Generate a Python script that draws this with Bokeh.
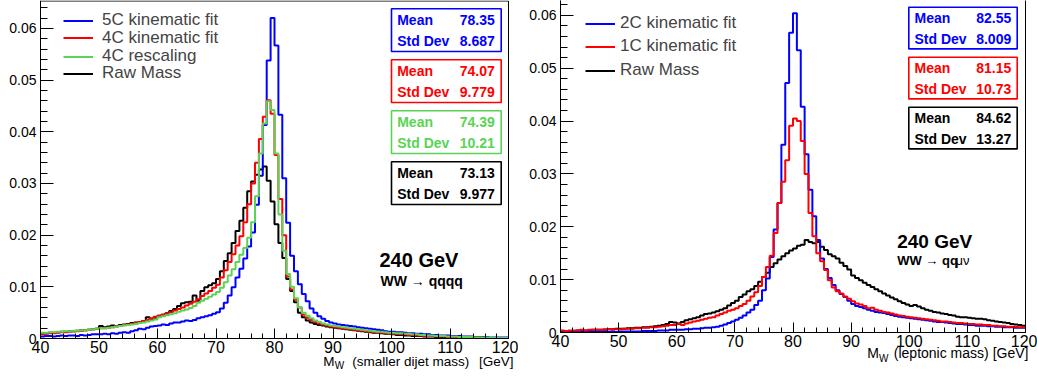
import numpy as np
from bokeh.plotting import figure
from bokeh.models import (Legend, LegendItem, Label, BoxAnnotation, FixedTicker, Range1d)
from bokeh.layouts import row
from bokeh.embed import file_html
from bokeh.resources import INLINE

# ---------------- data ----------------
X_MIN, X_MAX, N_BINS = 40, 120, 120
X_TICKS = [40, 50, 60, 70, 80, 90, 100, 110, 120]
Y_TICKS = [0, 0.01, 0.02, 0.03, 0.04, 0.05, 0.06]
Y_TICK_LABELS = ["0", "0.01", "0.02", "0.03", "0.04", "0.05", "0.06"]

# bin contents in units of 1e-3 (bins of 2/3 GeV from 40 to 120 GeV)
L_5C = [0.4, 0.5, 0.5, 0.4, 0.5, 0.6, 0.5, 0.6, 0.6, 0.5, 0.7, 0.6, 0.7, 0.8, 0.8,
        0.8, 0.9, 0.8, 1.0, 0.9, 1.1, 1.2, 1.1, 1.4, 1.6, 1.9, 1.8, 2.1, 2.3, 2.4,
        2.5, 2.7, 2.6, 2.9, 3.1, 3.1, 3.3, 3.5, 3.4, 3.6, 3.9, 4.1, 4.3, 4.5, 4.8,
        5.1, 5.8, 6.9, 8.3, 9.9, 11.8, 13.5, 15.5, 17.8, 20.5, 25.9, 31.5, 41.3, 53.8, 62.0,
        56.7, 43.3, 31.0, 22.4, 16.0, 13.0, 10.5, 8.6, 7.2, 5.8, 5.0, 4.3, 3.8, 3.4, 3.1,
        2.9, 2.7, 2.6, 2.5, 2.4, 2.3, 2.2, 2.1, 2.0, 1.9, 1.8, 1.7, 1.6, 1.4, 1.3,
        1.3, 1.2, 1.2, 1.1, 1.0, 1.0, 0.9, 0.9, 0.8, 0.8, 0.7, 0.7, 0.6, 0.6, 0.6,
        0.5, 0.5, 0.5, 0.4, 0.4, 0.4, 0.3, 0.3, 0.3, 0.3, 0.2, 0.2, 0.2, 0.2, 0.2]
L_4C = [0.8, 0.9, 1.0, 1.0, 1.1, 1.2, 1.2, 1.3, 1.4, 1.4, 1.5, 1.6, 1.7, 1.8, 1.9,
        2.0, 2.0, 2.1, 2.2, 2.3, 2.4, 2.6, 2.7, 2.8, 3.0, 3.2, 3.4, 3.6, 3.9, 4.2,
        4.4, 4.6, 4.8, 5.1, 5.4, 5.7, 6.0, 6.4, 6.7, 7.1, 7.6, 8.2, 8.7, 9.2, 9.8,
        10.4, 11.8, 13.2, 14.8, 16.3, 18.0, 19.8, 22.5, 26.0, 30.0, 34.0, 38.6, 42.9, 46.1, 43.5,
        35.5, 27.0, 20.0, 12.0, 9.5, 7.5, 6.0, 4.6, 4.0, 3.6, 3.2, 2.9, 2.7, 2.5, 2.3,
        2.2, 2.1, 2.0, 1.9, 1.8, 1.7, 1.6, 1.5, 1.4, 1.3, 1.2, 1.2, 1.1, 1.0, 1.0,
        0.9, 0.9, 0.8, 0.8, 0.7, 0.7, 0.6, 0.6, 0.5, 0.5, 0.5, 0.4, 0.4, 0.4, 0.3,
        0.3, 0.3, 0.3, 0.2, 0.2, 0.2, 0.2, 0.2, 0.1, 0.1, 0.1, 0.1, 0.1, 0.1, 0.1]
L_4C_RESC = [1.1, 1.1, 1.2, 1.2, 1.3, 1.3, 1.4, 1.4, 1.5, 1.5, 1.6, 1.6, 1.7, 1.8, 1.9,
             2.0, 2.0, 2.1, 2.2, 2.3, 2.4, 2.5, 2.6, 2.7, 2.8, 3.0, 3.1, 3.3, 3.5, 3.7,
             4.1, 4.3, 4.5, 4.7, 4.9, 5.2, 5.4, 5.6, 5.9, 6.3, 6.9, 7.3, 7.7, 8.1, 8.5,
             9.0, 9.8, 10.9, 12.2, 13.4, 14.8, 16.2, 17.5, 19.5, 22.5, 27.5, 35.8, 41.6, 45.9, 44.2,
             35.8, 24.0, 17.0, 12.5, 10.0, 7.8, 6.0, 5.0, 4.4, 3.9, 3.5, 3.2, 2.9, 2.7, 2.5,
             2.4, 2.3, 2.2, 2.1, 2.0, 1.9, 1.8, 1.7, 1.6, 1.5, 1.4, 1.3, 1.3, 1.2, 1.1,
             1.1, 1.0, 1.0, 0.9, 0.9, 0.8, 0.8, 0.7, 0.7, 0.6, 0.6, 0.5, 0.5, 0.5, 0.4,
             0.4, 0.4, 0.3, 0.3, 0.3, 0.3, 0.2, 0.2, 0.2, 0.2, 0.2, 0.1, 0.1, 0.1, 0.1]
L_RAW = [1.0, 1.0, 1.1, 1.1, 1.2, 1.3, 1.3, 1.4, 1.4, 1.5, 1.6, 1.6, 1.7, 1.8, 1.9,
         2.4, 2.2, 2.3, 2.5, 2.4, 2.6, 2.7, 2.8, 3.0, 3.1, 3.2, 3.4, 4.1, 3.7, 4.0,
         4.4, 4.6, 4.9, 5.3, 5.7, 6.3, 6.8, 7.0, 7.1, 8.3, 7.3, 9.2, 9.9, 10.3, 10.7,
         11.5, 13.0, 15.0, 16.5, 18.5, 20.8, 22.8, 25.3, 28.5, 30.4, 31.7, 32.7, 33.3, 30.5, 26.5,
         22.1, 18.5, 15.6, 11.5, 9.2, 7.0, 5.0, 4.1, 3.5, 3.1, 2.8, 2.6, 2.5, 2.3, 2.2,
         2.1, 2.0, 1.9, 1.8, 1.7, 1.6, 1.5, 1.4, 1.3, 1.2, 1.1, 1.1, 1.0, 0.9, 0.9,
         0.8, 0.7, 0.7, 0.6, 0.6, 0.5, 0.5, 0.5, 0.4, 0.4, 0.4, 0.3, 0.3, 0.3, 0.3,
         0.3, 0.2, 0.2, 0.2, 0.2, 0.2, 0.2, 0.1, 0.1, 0.1, 0.1, 0.1, 0.1, 0.1, 0.1]

R_2C = [0.1, 0.1, 0.1, 0.1, 0.1, 0.1, 0.1, 0.1, 0.1, 0.1, 0.1, 0.1, 0.1, 0.2, 0.1,
        0.2, 0.2, 0.2, 0.2, 0.2, 0.2, 0.3, 0.3, 0.3, 0.3, 0.4, 0.4, 0.4, 0.5, 0.5,
        0.5, 0.5, 0.6, 0.6, 0.7, 0.7, 0.8, 0.9, 0.9, 1.0, 1.1, 1.3, 1.5, 1.8, 2.1,
        2.4, 2.8, 3.2, 3.8, 4.3, 5.2, 6.0, 8.0, 10.2, 14.3, 19.5, 24.5, 35.5, 47.2, 56.7,
        60.4, 53.4, 42.7, 33.7, 27.0, 22.0, 17.5, 14.0, 12.0, 10.3, 9.0, 8.0, 7.3, 6.7, 6.0,
        5.4, 5.0, 4.8, 4.6, 4.3, 4.1, 3.9, 3.8, 3.7, 3.5, 3.3, 3.1, 3.0, 2.9, 2.8,
        2.7, 2.6, 2.5, 2.4, 2.3, 2.2, 2.1, 2.0, 2.0, 1.9, 1.8, 1.7, 1.6, 1.6, 1.5,
        1.4, 1.4, 1.3, 1.3, 1.3, 1.2, 1.2, 1.1, 1.1, 1.0, 1.0, 1.0, 0.9, 0.9, 0.9]
R_1C = [0.4, 0.3, 0.4, 0.4, 0.4, 0.5, 0.4, 0.5, 0.5, 0.5, 0.5, 0.6, 0.6, 0.6, 0.6,
        0.6, 0.7, 0.7, 0.7, 0.8, 0.8, 0.9, 0.9, 1.0, 1.0, 1.1, 1.2, 1.3, 1.4, 1.4,
        1.6, 1.4, 1.7, 1.9, 2.1, 2.2, 2.4, 2.6, 2.8, 2.9, 3.2, 3.5, 3.8, 4.1, 4.3,
        4.6, 5.0, 5.4, 6.0, 6.8, 7.6, 8.8, 10.5, 12.4, 14.5, 18.8, 24.5, 28.5, 32.6, 39.1,
        40.5, 40.0, 36.2, 30.0, 22.6, 18.2, 15.0, 13.5, 11.8, 9.9, 8.5, 7.8, 7.4, 6.8, 6.4,
        5.9, 5.5, 5.3, 5.0, 4.6, 4.7, 4.3, 4.1, 3.9, 3.8, 3.6, 3.4, 3.2, 3.1, 3.0,
        2.9, 2.8, 2.7, 2.6, 2.5, 2.4, 2.3, 2.2, 2.1, 2.1, 2.0, 1.9, 1.8, 1.8, 1.7,
        1.6, 1.6, 1.5, 1.5, 1.4, 1.4, 1.3, 1.3, 1.2, 1.2, 1.1, 1.1, 1.1, 1.0, 1.0]
R_RAW = [0.3, 0.3, 0.3, 0.3, 0.4, 0.4, 0.4, 0.4, 0.5, 0.5, 0.5, 0.5, 0.6, 0.6, 0.7,
         0.7, 0.7, 0.8, 0.8, 0.9, 0.9, 1.0, 1.0, 1.1, 1.2, 1.3, 1.4, 1.6, 2.0, 1.9,
         1.7, 2.0, 2.3, 2.5, 2.7, 2.9, 3.2, 3.5, 3.6, 3.8, 4.0, 4.3, 4.6, 5.1, 5.6,
         6.0, 6.7, 7.2, 7.8, 8.2, 8.8, 9.6, 10.5, 11.3, 12.4, 13.1, 13.8, 14.4, 15.0, 15.5,
         15.9, 16.4, 16.6, 17.5, 17.1, 16.9, 17.1, 16.2, 15.6, 14.8, 14.4, 14.0, 13.2, 12.6, 11.9,
         10.8, 10.3, 9.9, 9.4, 9.0, 8.6, 8.2, 7.8, 7.4, 7.0, 6.6, 6.3, 5.9, 5.6, 5.3,
         5.0, 5.2, 4.9, 4.6, 4.3, 4.1, 3.9, 3.8, 3.6, 3.5, 3.3, 3.2, 3.0, 2.9, 2.9,
         2.8, 2.7, 2.6, 2.6, 2.5, 2.3, 2.2, 2.1, 2.0, 1.9, 1.8, 1.6, 1.5, 1.4, 1.3]

L_LABELS = ["5C kinematic fit", "4C kinematic fit", "4C rescaling", "Raw Mass"]
R_LABELS = ["2C kinematic fit", "1C kinematic fit", "Raw Mass"]
L_MEAN = ["78.35", "74.07", "74.39", "73.13"]
L_STD = ["8.687", "9.779", "10.21", "9.977"]
R_MEAN = ["82.55", "81.15", "84.62"]
R_STD = ["8.009", "10.73", "13.27"]

BLUE, RED, GREEN, BLACK = "#0000ff", "#ff0000", "#59d454", "#000000"
FONT = "Liberation Sans"
H = 376
LEG_ROW = 20  # height bokeh gives one legend row

edges = np.linspace(X_MIN, X_MAX, N_BINS + 1)


def step_y(vals):
    v = np.asarray(vals, dtype=float) / 1000.0
    return np.append(v, v[-1])


class Geo:
    """pixel geometry of one panel (pixels relative to the figure's top-left)"""
    def __init__(self, width, px0, px1, py0, ymax):
        self.width, self.px0, self.px1, self.py0, self.ymax = width, px0, px1, py0, ymax

    def x(self, px):
        return X_MIN + (px - self.px0) / (self.px1 - self.px0) * (X_MAX - X_MIN)

    def y(self, py):
        return (self.py0 - py) / self.py0 * self.ymax


def make_panel(g, frame_top_px):
    p = figure(width=g.width, height=H, output_backend="svg", toolbar_location=None,
               x_range=Range1d(g.x(0), g.x(g.width)), y_range=Range1d(g.y(H), g.ymax),
               min_border_left=0, min_border_right=0, min_border_top=0, min_border_bottom=0)
    p.xgrid.visible = False
    p.ygrid.visible = False
    p.outline_line_color = None
    p.background_fill_color = "white"
    p.border_fill_color = "white"
    p.xaxis.fixed_location = 0
    p.yaxis.fixed_location = X_MIN
    p.xaxis.bounds = (X_MIN, X_MAX)
    p.yaxis.bounds = (0, g.ymax)
    p.xaxis.ticker = FixedTicker(ticks=X_TICKS, minor_ticks=list(range(X_MIN, X_MAX + 1, 2)))
    p.yaxis.ticker = FixedTicker(ticks=Y_TICKS,
                                 minor_ticks=[round(v, 4) for v in np.arange(0, 0.0651, 0.002)])
    p.yaxis.major_label_overrides = dict(zip(Y_TICKS, Y_TICK_LABELS))
    for ax in (p.xaxis[0], p.yaxis[0]):
        ax.axis_line_color = "black"
        ax.major_tick_line_color = "black"
        ax.minor_tick_line_color = "black"
        ax.major_tick_out = 0
        ax.minor_tick_out = 0
        ax.major_label_text_font = FONT
        ax.major_label_text_color = "black"
    p.xaxis.major_tick_in = 10
    p.xaxis.minor_tick_in = 5
    p.xaxis.major_label_text_font_size = "16px"
    p.xaxis.major_label_standoff = 2
    p.yaxis.major_tick_in = 13
    p.yaxis.minor_tick_in = 7
    p.yaxis.major_label_text_font_size = "14px"
    p.yaxis.major_label_standoff = 4
    # frame border (top / right)
    p.add_layout(BoxAnnotation(left=X_MIN, right=X_MAX, bottom=0, top=g.y(frame_top_px),
                               fill_alpha=0, line_color="black", line_alpha=1, line_width=1))
    return p


def label(p, g, px, cy, text, size, color="black", bold=False, align="left"):
    # cy: vertical centre of the capitals, in pixels from the top
    p.add_layout(Label(x=g.x(px), y=g.y(cy), text=text, text_font=FONT, text_font_size=size,
                       text_color=color, text_font_style="bold" if bold else "normal",
                       text_align=align, text_baseline="middle"))


def stat_box(p, g, x0, x1, top, h, color, mean, std, dy1, dy2, tx0, tx1):
    p.add_layout(BoxAnnotation(left=g.x(x0), right=g.x(x1), top=g.y(top), bottom=g.y(top + h),
                               fill_color="white", fill_alpha=1.0, line_color=color,
                               line_alpha=1.0, line_width=1.6))
    label(p, g, tx0, top + dy1, "Mean", "14px", color, True)
    label(p, g, tx1, top + dy1, mean, "14px", color, True, "right")
    label(p, g, tx0, top + dy2, "Std Dev", "14px", color, True)
    label(p, g, tx1, top + dy2, std, "14px", color, True, "right")


def legend_rows(p, labels, renderers, gx, centers, standoff):
    for t, r, c in zip(labels, renderers, centers):
        p.add_layout(Legend(items=[LegendItem(label=t, renderers=[r])],
                            location=(gx, H - c - LEG_ROW / 2),
                            label_text_font=FONT, label_text_font_size="17px",
                            glyph_width=30, glyph_height=17, padding=0, margin=0,
                            label_standoff=standoff, border_line_color=None,
                            background_fill_alpha=0))


# ---------------- left panel ----------------
GL = Geo(518, 40, 508, 338, 0.0654)
pl = make_panel(GL, 0.5)
r_raw = pl.step(edges, step_y(L_RAW), mode="after", line_color=BLACK, line_width=2)
r_5c = pl.step(edges, step_y(L_5C), mode="after", line_color=BLUE, line_width=2)
r_4c = pl.step(edges, step_y(L_4C), mode="after", line_color=RED, line_width=2)
r_4r = pl.step(edges, step_y(L_4C_RESC), mode="after", line_color=GREEN, line_width=2)
legend_rows(pl, L_LABELS, [r_5c, r_4c, r_4r, r_raw], 63, [20, 37.7, 56, 73.3], 9)
for i, c in enumerate([BLUE, RED, GREEN, BLACK]):
    stat_box(pl, GL, 391, 500.7, 8.3 + 51 * i, 42.7, c, L_MEAN[i], L_STD[i],
             11.4, 32.5, 396.7, 494.3)
label(pl, GL, 379, 259.2, "240 GeV", "20px", bold=True)
label(pl, GL, 380, 280.8, "WW \u2192 qqqq", "14px", bold=True)
label(pl, GL, 322.7, 360.8, "M", "13.5px")
label(pl, GL, 334.3, 365, "W", "10px")
label(pl, GL, 351.7, 360.8, "(smaller dijet mass)", "13.5px")
label(pl, GL, 513, 360.8, "[GeV]", "13.5px", align="right")

# ---------------- right panel (page x offset 518) ----------------
OFF = 518
GR = Geo(519, 560 - OFF, 1025 - OFF, 332, 0.0628)
pr = make_panel(GR, -4)  # top edge of this frame lies above the picture
q_raw = pr.step(edges, step_y(R_RAW), mode="after", line_color=BLACK, line_width=2)
q_2c = pr.step(edges, step_y(R_2C), mode="after", line_color=BLUE, line_width=2)
q_1c = pr.step(edges, step_y(R_1C), mode="after", line_color=RED, line_width=2)
legend_rows(pr, R_LABELS, [q_2c, q_1c, q_raw], 585 - OFF, [23.3, 46, 70], 5)
for i, c in enumerate([BLUE, RED, BLACK]):
    stat_box(pr, GR, 908.3 - OFF, 1016.7 - OFF, 6.7 + 50 * i, 41.7, c, R_MEAN[i], R_STD[i],
             11, 31.6, 914 - OFF, 1010.7 - OFF)
label(pr, GR, 896.7 - OFF, 240.8, "240 GeV", "19px", bold=True)
label(pr, GR, 896.7 - OFF, 260, "WW \u2192 qq", "13px", bold=True)
label(pr, GR, 955 - OFF, 260, "\u03bc\u03bd", "13px")
label(pr, GR, 866.7 - OFF, 352.5, "M", "14px")
label(pr, GR, 878.5 - OFF, 357.5, "W", "10px")
label(pr, GR, 893.3 - OFF, 352.5, "(leptonic mass)", "14px")
label(pr, GR, 1028 - OFF, 352.5, "[GeV]", "14px", align="right")

layout = row(pl, pr)
html = file_html(layout, INLINE)
html = html.replace("<body>", '<body style="margin:0;padding:0;">', 1)
open("out.html", "w").write(html)
